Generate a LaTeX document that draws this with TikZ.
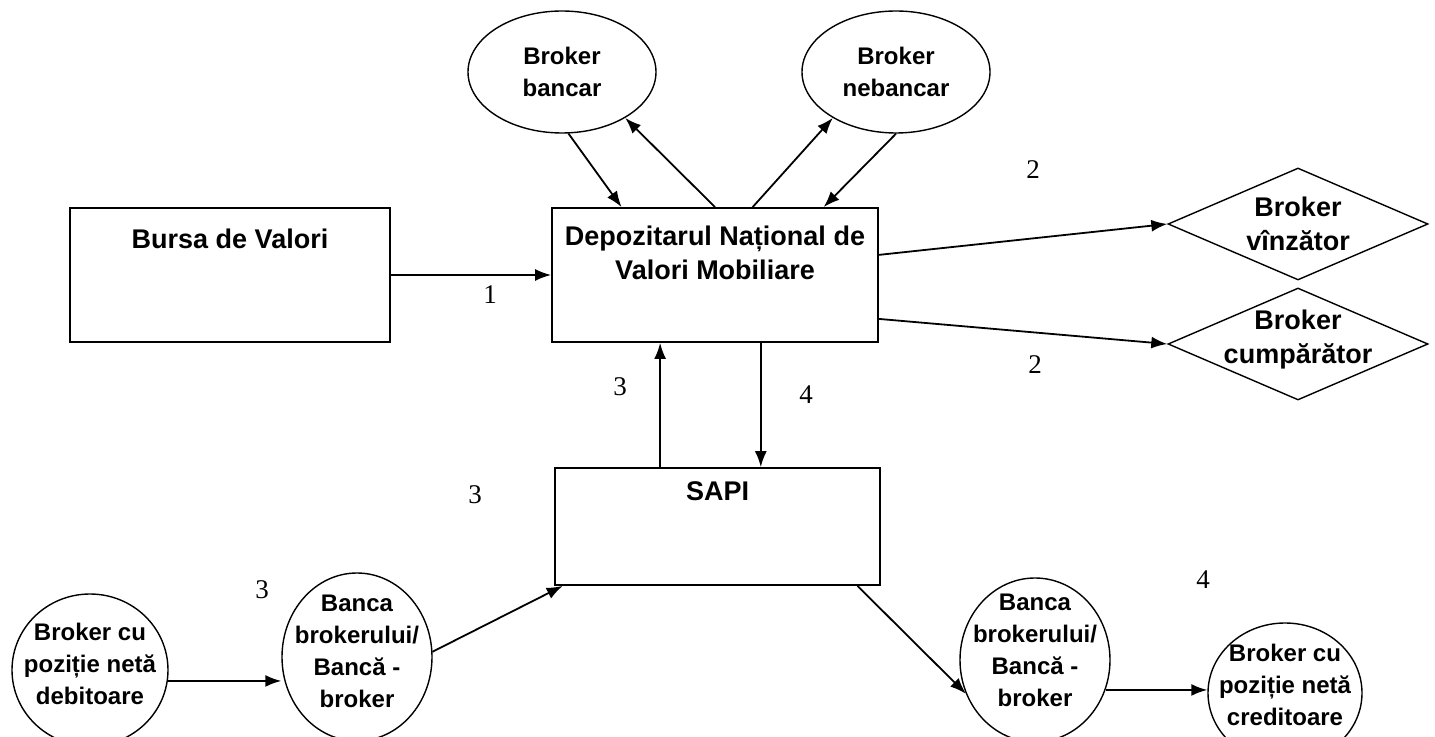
\documentclass[tikz,border=0pt]{standalone}
\usepackage{fontspec}
\setmainfont{Liberation Sans}
\newfontfamily\numfont{Liberation Serif}
\usepackage{tikz}
\usetikzlibrary{arrows.meta, shapes.geometric}

\begin{document}
\begin{tikzpicture}[x=0.5pt,y=-0.5pt,>={Latex[length=8pt,width=6pt]},line width=0.9pt,
  font=\bfseries\fontsize{13.5}{17}\selectfont]
  \tikzstyle{box}=[draw,rectangle,inner sep=0pt]
  \tikzstyle{oval}=[draw,ellipse,inner sep=0pt,line width=0.7pt]
  \tikzstyle{rhomb}=[draw,diamond,inner sep=0pt,line width=0.7pt,
    minimum width=130pt,minimum height=56pt]
  \tikzstyle{num}=[font=\numfont\fontsize{13.5}{13.5}\selectfont]
  \tikzstyle{small}=[font=\bfseries\fontsize{12}{16}\selectfont]
  \tikzstyle{every label}=[align=center]

  \useasboundingbox (0,0) rectangle (1435,737);

  % boxes
  \node[box,minimum width=160pt,minimum height=67pt,
    label={[anchor=center,yshift=-16pt]north:Bursa de Valori}] (bursa) at (230,275) {};
  \node[box,minimum width=163pt,minimum height=67pt,
    label={[anchor=center,yshift=-23pt]north:Depozitarul Național de\\Valori Mobiliare}] (dnvm) at (715,275) {};
  \node[box,minimum width=162.5pt,minimum height=58.5pt,
    label={[anchor=center,yshift=-12pt]north:SAPI}] (sapi) at (717.5,526.5) {};

  % brokers
  \node[oval,minimum width=94pt,minimum height=61pt,
    label={[small]center:Broker\\bancar}] (bancar) at (562,72) {};
  \node[oval,minimum width=94pt,minimum height=61pt,
    label={[small]center:Broker\\nebancar}] (nebancar) at (896,72) {};
  \node[rhomb,label={center:Broker\\vînzător}] (vinzator) at (1298,224) {};
  \node[rhomb,label={[yshift=2pt]center:Broker\\cumpărător}] (cumparator) at (1298,344) {};

  % settlement
  \node[oval,minimum width=78pt,minimum height=76pt,
    label={[small,yshift=3pt]center:Broker cu\\poziție netă\\debitoare}] (debitoare) at (90,670) {};
  \node[oval,minimum width=75pt,minimum height=84pt,
    label={[small,yshift=3pt]center:Banca\\brokerului/\\Bancă -\\broker}] (bancaL) at (357,657) {};
  \node[oval,minimum width=75pt,minimum height=82pt,
    label={[small,yshift=5pt]center:Banca\\brokerului/\\Bancă -\\broker}] (bancaR) at (1035,660) {};
  \node[oval,minimum width=77pt,minimum height=70pt,
    label={[small,yshift=4pt]center:Broker cu\\poziție netă\\creditoare}] (creditoare) at (1285,693) {};

  \path[->]
  (bursa.east |- dnvm.west) edge (dnvm.west)
  (bancar.-84) edge (dnvm.144)
  (dnvm.north) edge (bancar.-36)
  (dnvm.61) edge (nebancar.-144)
  (nebancar.south) edge (dnvm.32)
  (dnvm.7) edge (vinzator.west)
  (dnvm.-15) edge (cumparator.west)
  (dnvm.-56) edge (dnvm.-56 |- sapi.north)
  (sapi.134) edge (sapi.134 |- dnvm.south)
  (debitoare.-8) edge (debitoare.-8 -| bancaL.west)
  (bancaL.4) edge (sapi.-159)
  (sapi.-23) edge (bancaR.-154)
  (bancaR.-23) edge (bancaR.-23 -| creditoare.west)
  ;

  % step numbers
  \node[num] (n1) at (490,295) {1};
  \node[num] (n2a) at (1033,170) {2};
  \node[num] (n2b) at (1035,365) {2};
  \node[num] (n3a) at (620,387) {3};
  \node[num] (n4a) at (806,395) {4};
  \node[num] (n3b) at (475,495) {3};
  \node[num] (n3c) at (262,590) {3};
  \node[num] (n4b) at (1203,580) {4};
\end{tikzpicture}
\end{document}
